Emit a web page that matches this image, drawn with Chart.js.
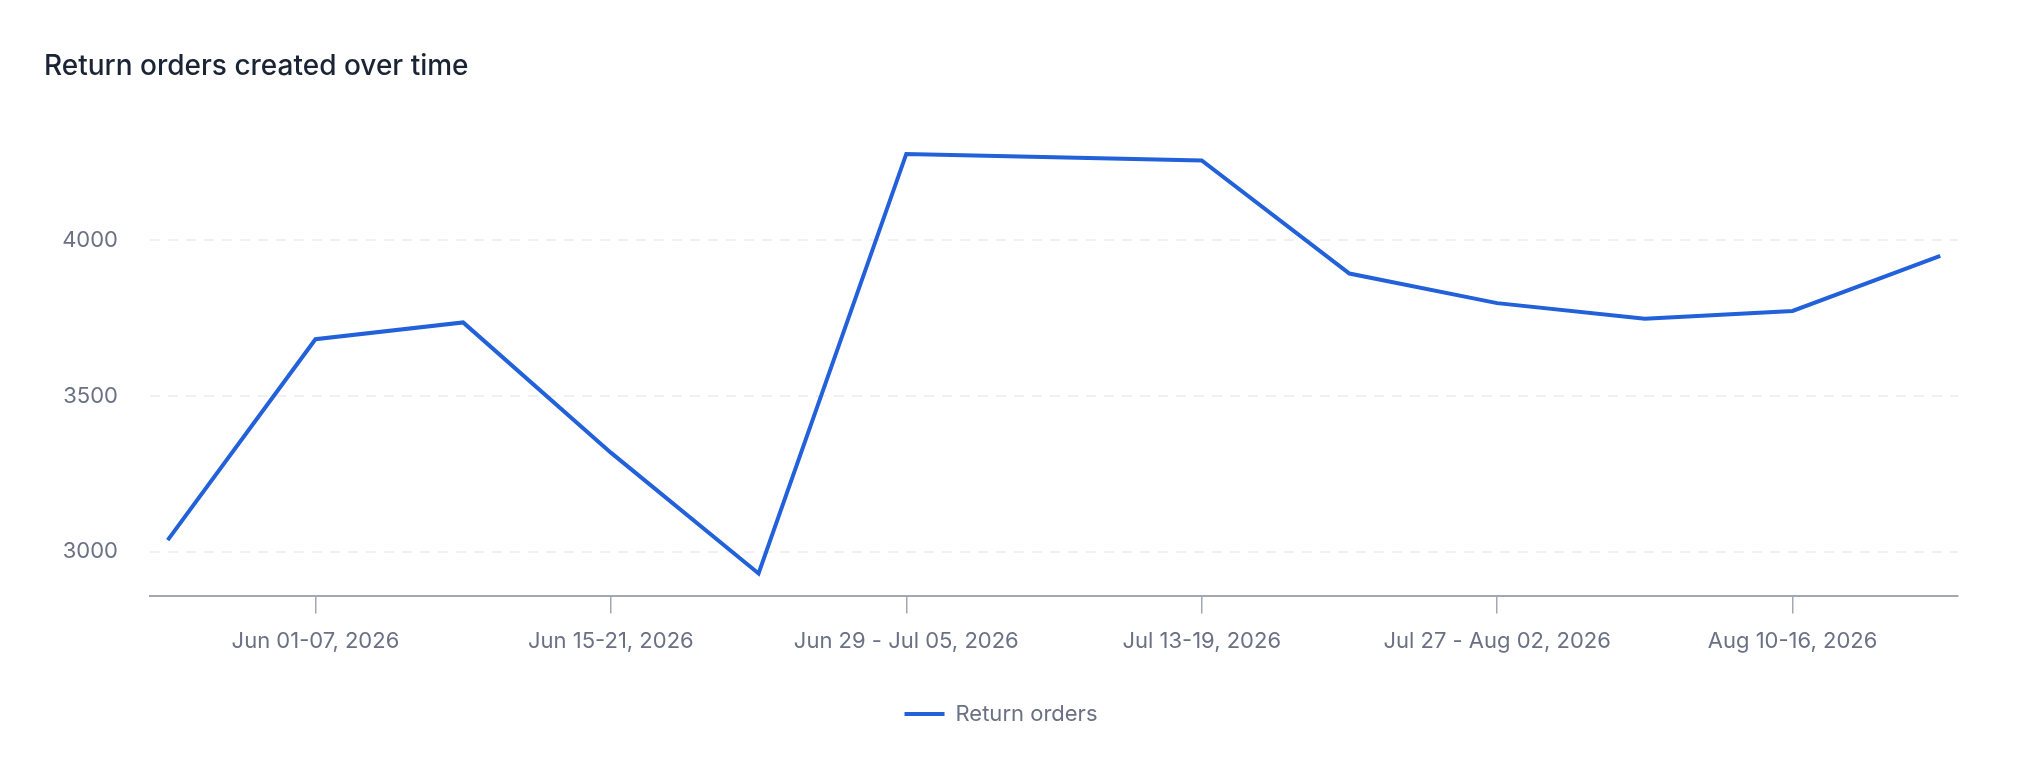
<!DOCTYPE html>
<html>
<head>
  <title>Return orders created over time</title>
  <script src="https://cdn.jsdelivr.net/npm/chart.js"></script>
  <style>
    body {
      margin: 0;
      background-color: #FFFFFF;
    }

    .chart-container {
      position: relative;
      width: 2024px;
      height: 782px;
    }
  </style>
</head>
<body>
  <div class="chart-container">
    <canvas id="returnsChart"></canvas>
  </div>

  <script>
    // weekly buckets, one point per week
    const weeks = [
      'May 25-31, 2026', 'Jun 01-07, 2026', 'Jun 08-14, 2026', 'Jun 15-21, 2026',
      'Jun 22-28, 2026', 'Jun 29 - Jul 05, 2026', 'Jul 06-12, 2026', 'Jul 13-19, 2026',
      'Jul 20-26, 2026', 'Jul 27 - Aug 02, 2026', 'Aug 03-09, 2026', 'Aug 10-16, 2026',
      'Aug 17-23, 2026'
    ];
    const returnOrders = [3037, 3682, 3736, 3318, 2930, 4277, 4266, 4256, 3893, 3798, 3748, 3773, 3950];

    // which weeks get a label on the x axis, and the y grid values
    const labelledWeeks = [1, 3, 5, 7, 9, 11];
    const yTicks = [3000, 3500, 4000];

    const tickColor = '#6b7185';
    const font = 'Inter';

    const ctx = document.getElementById('returnsChart').getContext('2d');

    window.chart = new Chart(ctx, {
      type: 'line',
      data: {
        datasets: [
          {
            label: 'Return orders',
            data: returnOrders.map((value, i) => ({ x: i, y: value })),
            borderColor: '#2261d9',
            backgroundColor: '#2261d9',
            borderWidth: 4,
            pointRadius: 0,
            pointHoverRadius: 0,
            pointStyle: 'line',
            tension: 0,
            fill: false,
          },
        ],
      },
      options: {
        responsive: true,
        maintainAspectRatio: false,
        animation: false,
        layout: {
          padding: { left: 44, right: 66, top: 20, bottom: 47 },
        },
        scales: {
          x: {
            type: 'linear',
            min: -0.12,
            max: weeks.length - 1 + 0.12,
            afterBuildTicks: (scale) => {
              scale.ticks = labelledWeeks.map((i) => ({ value: i }));
            },
            ticks: {
              autoSkip: false,
              maxRotation: 0,
              padding: 15,
              color: tickColor,
              font: { family: font, size: 22 },
              callback: (value) => weeks[value],
            },
            grid: {
              drawOnChartArea: false,
              drawTicks: true,
              tickLength: 18,
              color: '#a3a7b4',
              lineWidth: 1.5,
            },
            border: {
              display: true,
              color: '#a3a7b4',
              width: 2,
            },
          },
          y: {
            min: 2859,
            max: 4400,
            afterBuildTicks: (scale) => {
              scale.ticks = yTicks.map((v) => ({ value: v }));
            },
            afterFit: (scale) => {
              scale.width = 106;
            },
            ticks: {
              padding: 32,
              color: tickColor,
              font: { family: font, size: 22 },
              callback: (value) => String(value),
            },
            grid: {
              drawTicks: false,
              color: '#eef0f5',
              lineWidth: 2,
            },
            border: {
              display: false,
              dash: [10, 8],
            },
          },
        },
        plugins: {
          title: {
            display: true,
            text: 'Return orders created over time',
            align: 'start',
            color: '#1b2435',
            font: { family: font, size: 28, weight: '500' },
            padding: { top: 30, bottom: 32 },
          },
          legend: {
            position: 'bottom',
            labels: {
              usePointStyle: true,
              pointStyleWidth: 40,
              boxHeight: 22,
              padding: 33,
              color: tickColor,
              font: { family: font, size: 22 },
            },
          },
          tooltip: { enabled: false },
        },
      },
    });
  </script>
</body>
</html>
